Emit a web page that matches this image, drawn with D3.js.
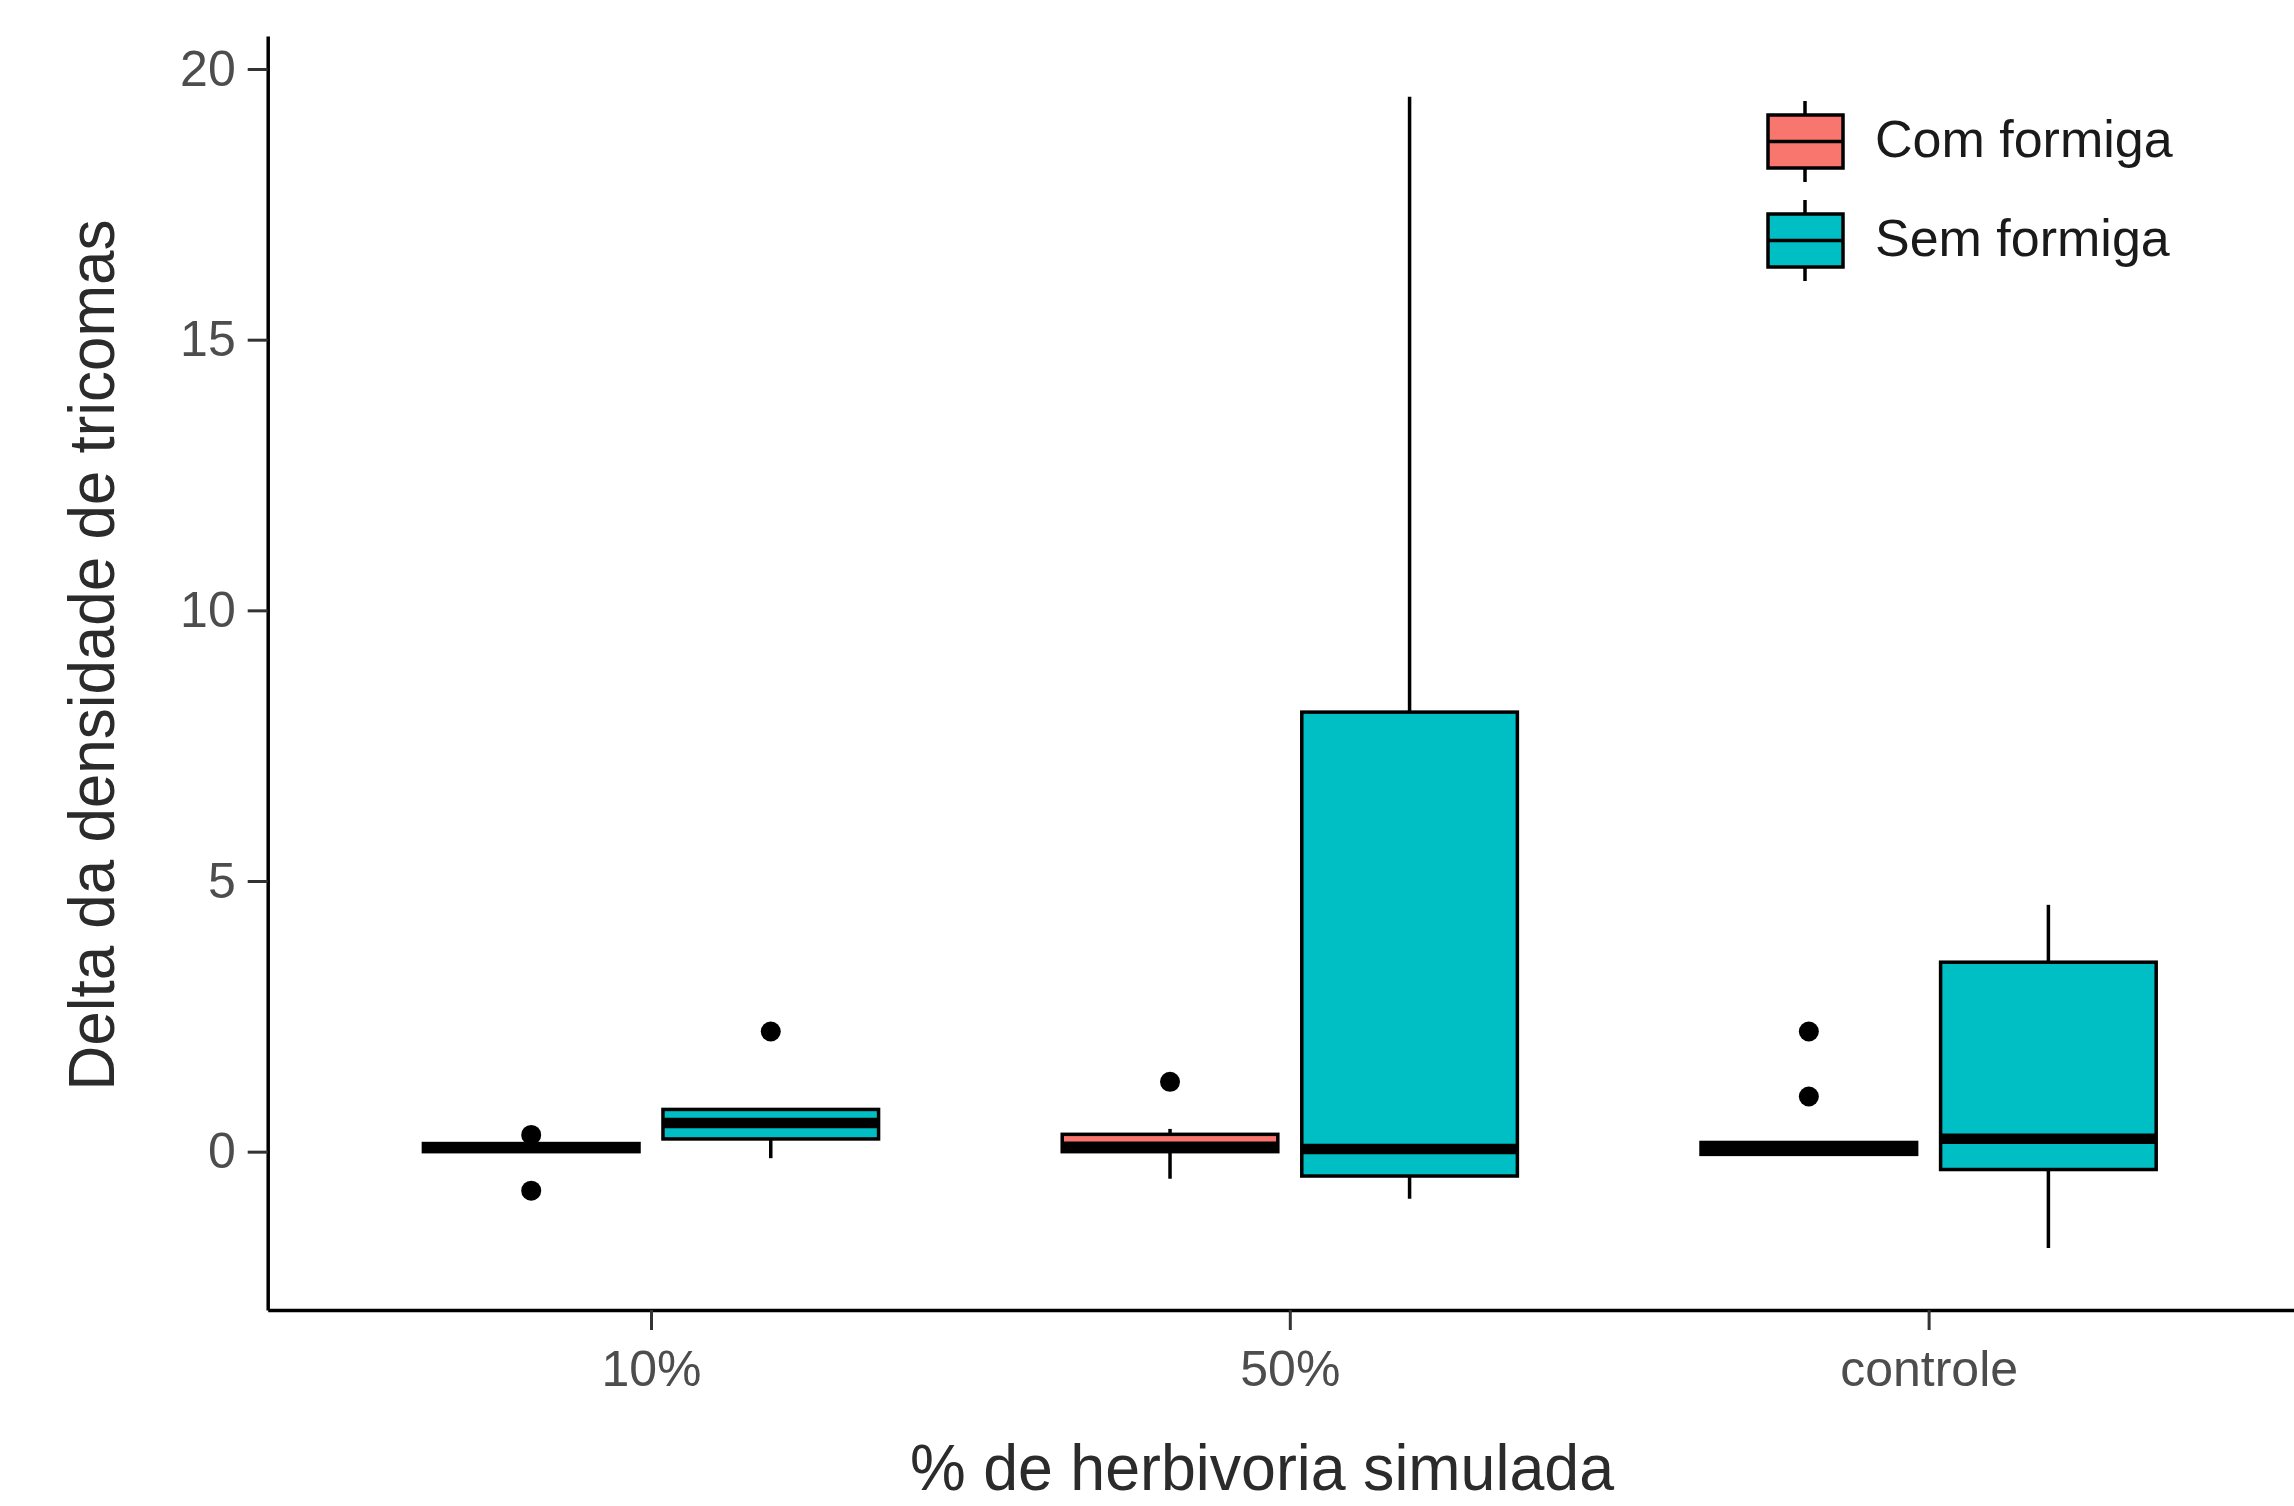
<!DOCTYPE html>
<meta charset="utf-8">
<title>Delta da densidade de tricomas</title>
<style>
  body {
    margin: 0;
    padding: 0;
    overflow: hidden;
    background-color: #fff;
  }

  svg {
    display: block;
    font-family: "Liberation Sans", Arial, sans-serif;
  }

  .axis .domain {
    stroke: #000;
    stroke-width: 3.5;
  }

  .axis .tick line {
    stroke: #333;
    stroke-width: 3;
  }

  .axis .tick text {
    fill: #4d4d4d;
    font-size: 50px;
  }

  .title {
    fill: #2b2b2b;
    font-size: 64px;
  }

  .legend text {
    fill: #1a1a1a;
    font-size: 52px;
  }
</style>

<body>
  <script src="https://cdn.jsdelivr.net/npm/d3@7"></script>
  <script>
    // treatments on the x axis, ant presence as the fill
    var categories = ["10%", "50%", "controle"];
    var groups = ["Com formiga", "Sem formiga"];
    var colours = ["#F8766D", "#00BFC4"];

    // box stats per group, one value per category
    var comLower  = [0.00, -0.50, -0.05];
    var comQ1     = [0.00,  0.00, -0.05];
    var comMedian = [0.07,  0.09,  0.06];
    var comQ3     = [0.15,  0.32,  0.17];
    var comUpper  = [0.15,  0.42,  0.17];
    var comOutliers = [[0.31, -0.72], [1.29], [2.22, 1.02]];

    var semLower  = [-0.12, -0.87, -1.78];
    var semQ1     = [0.235, -0.45, -0.33];
    var semMedian = [0.53,   0.05,  0.24];
    var semQ3     = [0.78,   8.12,  3.50];
    var semUpper  = [0.78,  19.49,  4.56];
    var semOutliers = [[2.22], [], []];

    var yTicks = [0, 5, 10, 15, 20];

    var width = 2294,
      height = 1506;

    var boxes = [];
    categories.forEach(function (c, i) {
      boxes.push({ cat: c, g: 0, lo: comLower[i], q1: comQ1[i], med: comMedian[i], q3: comQ3[i], hi: comUpper[i], out: comOutliers[i] });
      boxes.push({ cat: c, g: 1, lo: semLower[i], q1: semQ1[i], med: semMedian[i], q3: semQ3[i], hi: semUpper[i], out: semOutliers[i] });
    });

    var x = d3.scalePoint()
      .domain(categories)
      .range([267.7, 2311.9])
      .padding(0.6);

    var step = x.step();
    var dodge = 0.375 * step,
      boxW = 0.3375 * step;

    var y = d3.scaleLinear()
      .domain([-2.925, 20.61])
      .range([1310, 36]);

    var cx = function (d) { return x(d.cat) + (d.g - 0.5) * dodge; };

    var svg = d3.select("body").append("svg")
      .attr("width", width)
      .attr("height", height)
      .attr("viewBox", `0 0 ${width} ${height}`);

    var plot = svg.append("g").attr("class", "boxes");

    var box = plot.selectAll("g.box").data(boxes)
      .enter().append("g")
      .attr("class", "box");

    // outliers first, like ggplot does
    box.selectAll("circle").data(d => d.out.map(v => ({ v: v, d: d })))
      .enter().append("circle")
      .attr("cx", o => cx(o.d))
      .attr("cy", o => y(o.v))
      .attr("r", 10)
      .attr("fill", "#000");

    box.append("rect")
      .attr("x", d => cx(d) - boxW / 2)
      .attr("y", d => y(d.q3))
      .attr("width", boxW)
      .attr("height", d => y(d.q1) - y(d.q3))
      .attr("fill", d => colours[d.g])
      .attr("stroke", "#000")
      .attr("stroke-width", 3.5);

    box.append("line")
      .attr("x1", d => cx(d) - boxW / 2)
      .attr("x2", d => cx(d) + boxW / 2)
      .attr("y1", d => y(d.med))
      .attr("y2", d => y(d.med))
      .attr("stroke", "#000")
      .attr("stroke-width", 10.5);

    box.append("line")
      .attr("x1", cx).attr("x2", cx)
      .attr("y1", d => y(d.q3)).attr("y2", d => y(d.hi))
      .attr("stroke", "#000")
      .attr("stroke-width", 3.5);

    box.append("line")
      .attr("x1", cx).attr("x2", cx)
      .attr("y1", d => y(d.q1)).attr("y2", d => y(d.lo))
      .attr("stroke", "#000")
      .attr("stroke-width", 3.5);

    // axes
    var yAxis = svg.append("g").attr("class", "axis")
      .attr("transform", "translate(267.7,0)")
      .call(d3.axisLeft(y).tickValues(yTicks).tickSize(20).tickSizeOuter(0).tickPadding(12));

    var xAxis = svg.append("g").attr("class", "axis")
      .attr("transform", "translate(0,1310)")
      .call(d3.axisBottom(x).tickSize(20).tickSizeOuter(0).tickPadding(20));

    svg.selectAll(".axis").attr("font-size", null).attr("font-family", null);

    svg.append("text")
      .attr("class", "title")
      .attr("text-anchor", "middle")
      .attr("x", 1262)
      .attr("y", 1490)
      .attr("textLength", 704)
      .attr("lengthAdjust", "spacingAndGlyphs")
      .text("% de herbivoria simulada");

    svg.append("text")
      .attr("class", "title")
      .attr("text-anchor", "middle")
      .attr("transform", "translate(114,655) rotate(-90)")
      .attr("textLength", 871)
      .attr("lengthAdjust", "spacingAndGlyphs")
      .text("Delta da densidade de tricomas");

    // legend
    var legend = svg.append("g").attr("class", "legend")
      .attr("transform", "translate(1768,115)");

    var item = legend.selectAll("g").data(groups)
      .enter().append("g")
      .attr("transform", (d, i) => `translate(0,${i * 99})`);

    item.append("line")
      .attr("x1", 37).attr("x2", 37)
      .attr("y1", -14).attr("y2", 67)
      .attr("stroke", "#000")
      .attr("stroke-width", 3.5);

    item.append("rect")
      .attr("width", 75)
      .attr("height", 53)
      .attr("fill", (d, i) => colours[i])
      .attr("stroke", "#000")
      .attr("stroke-width", 3.5);

    item.append("line")
      .attr("x1", 0).attr("x2", 75)
      .attr("y1", 26.5).attr("y2", 26.5)
      .attr("stroke", "#000")
      .attr("stroke-width", 3.5);

    item.append("text")
      .attr("x", 107)
      .attr("y", 42)
      .text(d => d);
  </script>
</body>
